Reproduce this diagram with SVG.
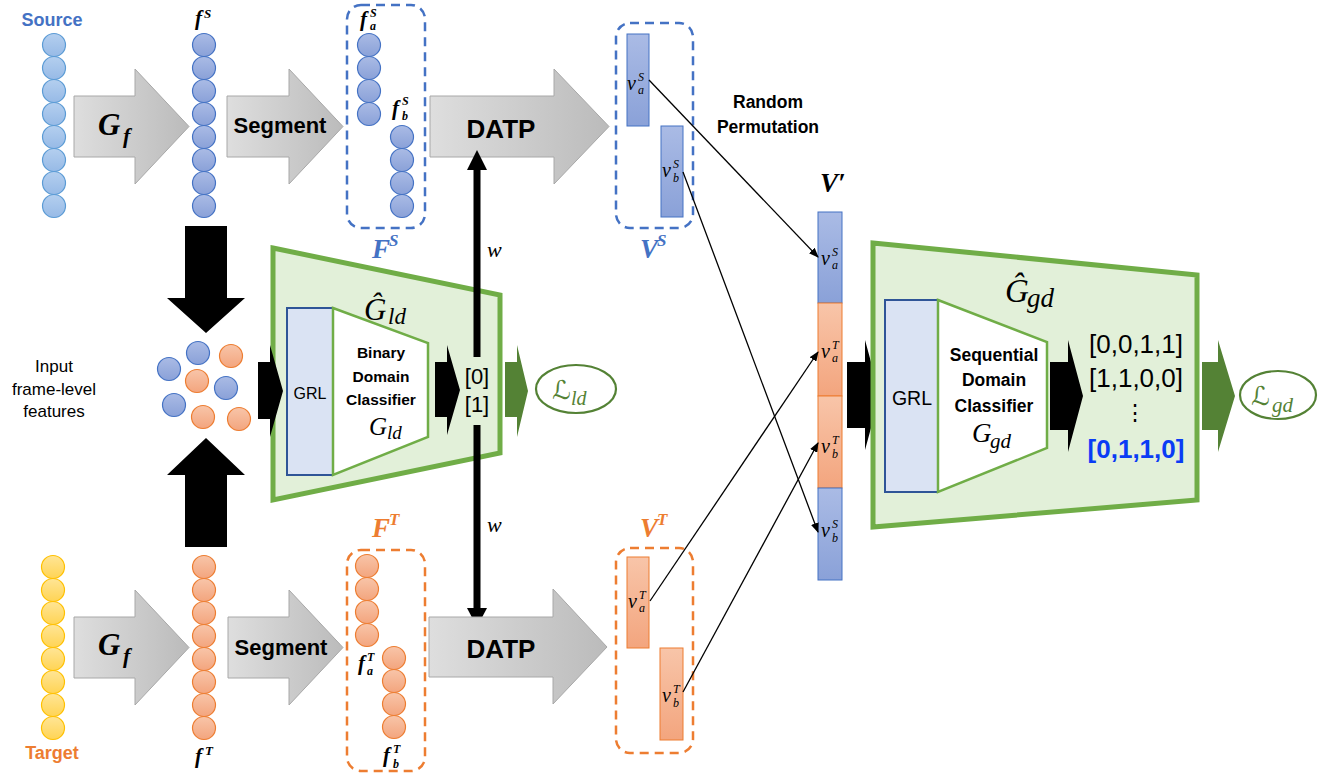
<svg xmlns="http://www.w3.org/2000/svg" width="1330" height="778" viewBox="0 0 1330 778">
<defs>
  <linearGradient id="gGray" x1="0" y1="0" x2="1" y2="0"><stop offset="0" stop-color="#DEDEDE"/><stop offset="1" stop-color="#BBBBBB"/></linearGradient>
  <linearGradient id="gSrc" x1="0" y1="0" x2="0" y2="1"><stop offset="0" stop-color="#B4CFEF"/><stop offset="1" stop-color="#97BAE6"/></linearGradient>
  <linearGradient id="gBlue" x1="0" y1="0" x2="0" y2="1"><stop offset="0" stop-color="#AABBE5"/><stop offset="1" stop-color="#8AA1D8"/></linearGradient>
  <linearGradient id="gOrg" x1="0" y1="0" x2="0" y2="1"><stop offset="0" stop-color="#F8C5A9"/><stop offset="1" stop-color="#F3A57E"/></linearGradient>
  <linearGradient id="gYel" x1="0" y1="0" x2="0" y2="1"><stop offset="0" stop-color="#FFE596"/><stop offset="1" stop-color="#FFD455"/></linearGradient>
  <marker id="ah" markerWidth="10" markerHeight="8" refX="9" refY="4" orient="auto" markerUnits="userSpaceOnUse"><path d="M0,0 L10,4 L0,8 Z" fill="#000"/></marker>
</defs>
<style>
  .sans{font-family:"Liberation Sans",Arial,sans-serif}
  .b{font-weight:bold}
  .m{font-family:"Liberation Serif","Times New Roman",serif;font-style:italic}
  .scr{font-family:"DejaVu Serif","DejaVu Sans",serif}
  .gray{fill:url(#gGray);stroke:#A8A8A8;stroke-width:1}
  .cs{fill:url(#gSrc);stroke:#5B9BD5;stroke-width:1.2}
  .cb{fill:url(#gBlue);stroke:#4472C4;stroke-width:1.2}
  .co{fill:url(#gOrg);stroke:#ED7D31;stroke-width:1.2}
  .cy{fill:url(#gYel);stroke:#FFC000;stroke-width:1.2}
  .dashB{fill:none;stroke:#4472C4;stroke-width:2.5;stroke-dasharray:9 6}
  .dashO{fill:none;stroke:#ED7D31;stroke-width:2.5;stroke-dasharray:9 6}
  .barB{fill:url(#gBlue);stroke:#4472C4;stroke-width:1}
  .barO{fill:url(#gOrg);stroke:#ED7D31;stroke-width:1}
  .conn{stroke:#000;stroke-width:1.3;fill:none;marker-end:url(#ah)}
  .blk{fill:#000}
  .grn{fill:#548235}
  .trap{fill:#E2F0D9;stroke:#70AD47;stroke-width:5}
  .grl{fill:#DAE3F3;stroke:#2F5597;stroke-width:2}
  .cls{fill:#fff;stroke:#70AD47;stroke-width:2.5}
  .blue{fill:#4472C4}
  .org{fill:#ED7D31}
</style>

<!-- Source row -->
<g id="source">
  <text x="52" y="26" text-anchor="middle" class="sans b blue" font-size="18">Source</text>
  <circle class="cs" cx="54" cy="45" r="11.5"/><circle class="cs" cx="54" cy="68" r="11.5"/><circle class="cs" cx="54" cy="91" r="11.5"/><circle class="cs" cx="54" cy="114" r="11.5"/>
  <circle class="cs" cx="54" cy="137" r="11.5"/><circle class="cs" cx="54" cy="160" r="11.5"/><circle class="cs" cx="54" cy="183" r="11.5"/><circle class="cs" cx="54" cy="206" r="11.5"/>
</g>
<g id="gf-top">
  <path class="gray" d="M74,96 L135,96 L135,69 L189,126.5 L135,184 L135,157 L74,157 Z"/>
  <text x="98" y="135" class="m b" font-size="31">G</text><text x="123" y="143" class="m b" font-size="22">f</text>
</g>
<g id="fS">
  <text x="195" y="25" class="m b" font-size="21">f</text><text x="204" y="18" class="m b" font-size="13">S</text>
  <circle class="cb" cx="204" cy="45" r="11.5"/><circle class="cb" cx="204" cy="68" r="11.5"/><circle class="cb" cx="204" cy="91" r="11.5"/><circle class="cb" cx="204" cy="114" r="11.5"/>
  <circle class="cb" cx="204" cy="137" r="11.5"/><circle class="cb" cx="204" cy="160" r="11.5"/><circle class="cb" cx="204" cy="183" r="11.5"/><circle class="cb" cx="204" cy="206" r="11.5"/>
</g>
<g id="segment-top">
  <path class="gray" d="M227,96 L289,96 L289,69 L343,126.5 L289,184 L289,157 L227,157 Z"/>
  <text x="280" y="133" text-anchor="middle" class="sans b" font-size="22">Segment</text>
</g>
<g id="FS">
  <rect class="dashB" x="347" y="5" width="78" height="223" rx="14"/>
  <text x="360" y="26" class="m b" font-size="21">f</text><text x="370" y="17" class="m b" font-size="12">S</text><text x="370" y="30" class="m b" font-size="12">a</text>
  <circle class="cb" cx="369" cy="45" r="11.5"/><circle class="cb" cx="369" cy="68" r="11.5"/><circle class="cb" cx="369" cy="91" r="11.5"/><circle class="cb" cx="369" cy="114" r="11.5"/>
  <text x="392" y="115" class="m b" font-size="21">f</text><text x="402" y="105" class="m b" font-size="12">S</text><text x="402" y="120" class="m b" font-size="12">b</text>
  <circle class="cb" cx="402" cy="137" r="11.5"/><circle class="cb" cx="402" cy="160" r="11.5"/><circle class="cb" cx="402" cy="183" r="11.5"/><circle class="cb" cx="402" cy="206" r="11.5"/>
  <text x="372" y="258" class="m b blue" font-size="27">F</text><text x="389" y="246" class="m b blue" font-size="17">S</text>
</g>
<g id="datp-top">
  <path class="gray" d="M430,96 L554,96 L554,69 L609,126.5 L554,184 L554,157 L430,157 Z"/>
  <text x="501" y="138" text-anchor="middle" class="sans b" font-size="26">DATP</text>
</g>
<g id="VS">
  <rect class="dashB" x="616" y="23" width="77" height="205" rx="14"/>
  <rect class="barB" x="627" y="34" width="22" height="92"/>
  <rect class="barB" x="661" y="126" width="22" height="91"/>
  <text x="627" y="90" class="m" font-size="20">v</text><text x="638" y="81" class="m" font-size="12">S</text><text x="638" y="94" class="m" font-size="12">a</text>
  <text x="662" y="177" class="m" font-size="20">v</text><text x="673" y="168" class="m" font-size="12">S</text><text x="673" y="182" class="m" font-size="12">b</text>
  <text x="640" y="258" class="m b blue" font-size="27">V</text><text x="657" y="246" class="m b blue" font-size="17">S</text>
</g>
<text id="random-perm" class="sans b" font-size="17.5" text-anchor="middle"><tspan x="768" y="108">Random</tspan><tspan x="768" y="133">Permutation</tspan></text>

<!-- Input features -->
<g id="input-features">
  <text class="sans" font-size="17" text-anchor="middle"><tspan x="54" y="372">Input</tspan><tspan x="54" y="395">frame-level</tspan><tspan x="54" y="417">features</tspan></text>
  <path class="blk" d="M185,226 L227,226 L227,298 L245,298 L206,333 L167,298 L185,298 Z"/>
  <path class="blk" d="M185,547 L227,547 L227,475 L245,475 L206,438 L167,475 L185,475 Z"/>
  <circle class="cb" cx="169" cy="369" r="11.5"/><circle class="cb" cx="198" cy="353" r="11.5"/><circle class="cb" cx="226" cy="388" r="11.5"/><circle class="cb" cx="174" cy="405" r="11.5"/>
  <circle class="co" cx="231" cy="356" r="11.5"/><circle class="co" cx="197" cy="381" r="11.5"/><circle class="co" cx="203" cy="417" r="11.5"/><circle class="co" cx="239" cy="419" r="11.5"/>
</g>

<!-- Local domain classifier -->
<g id="Gld">
  <polygon class="trap" points="273,248 500,295 500,453 273,500"/>
  <rect class="grl" x="287" y="308" width="46" height="167"/>
  <text x="310" y="399" text-anchor="middle" class="sans" font-size="16">GRL</text>
  <polygon class="cls" points="333,308 428,343 428,437 333,475"/>
  <text class="sans b" font-size="15.5" text-anchor="middle"><tspan x="381" y="358">Binary</tspan><tspan x="381" y="382">Domain</tspan><tspan x="381" y="405">Classifier</tspan></text>
  <text x="369" y="435" class="m" font-size="25">G</text><text x="387" y="439" class="m" font-size="19">ld</text>
  <text x="364" y="320" class="m" font-size="31">Ĝ</text><text x="388" y="324" class="m" font-size="23">ld</text>
  <path class="blk" d="M258,362 L270,362 L270,345 L283,391 L270,437 L270,419 L258,419 Z"/>
  <path class="blk" d="M435,362 L447,362 L447,345 L460,390 L447,435 L447,417 L435,417 Z"/>
  <text x="477" y="384" text-anchor="middle" class="sans" font-size="22">[0]</text>
  <text x="477" y="412" text-anchor="middle" class="sans" font-size="22">[1]</text>
  <path class="grn" d="M505,362 L517,362 L517,345 L528,391 L517,437 L517,417 L505,417 Z"/>
</g>
<g id="Lld">
  <ellipse cx="576" cy="389" rx="40" ry="24" fill="#fff" stroke="#548235" stroke-width="2.2"/>
  <text x="552" y="399" class="scr" font-size="26" fill="#548235" font-style="italic">ℒ</text><text x="571" y="405" class="m" font-size="20" fill="#548235">ld</text>
</g>

<!-- w arrows -->
<g id="w-arrows">
  <rect class="blk" x="473.5" y="168" width="7" height="189"/>
  <path class="blk" d="M467,170 L477,150 L487,170 Z"/>
  <rect class="blk" x="473.5" y="425" width="7" height="185"/>
  <path class="blk" d="M467,608 L477,627 L487,608 Z"/>
  <text x="487" y="257" class="m" font-size="22">w</text>
  <text x="487" y="532" class="m" font-size="22">w</text>
</g>

<!-- Target row -->
<g id="target">
  <circle class="cy" cx="53" cy="567" r="11.5"/><circle class="cy" cx="53" cy="590" r="11.5"/><circle class="cy" cx="53" cy="613" r="11.5"/><circle class="cy" cx="53" cy="636" r="11.5"/>
  <circle class="cy" cx="53" cy="659" r="11.5"/><circle class="cy" cx="53" cy="682" r="11.5"/><circle class="cy" cx="53" cy="705" r="11.5"/><circle class="cy" cx="53" cy="728" r="11.5"/>
  <text x="52" y="759" text-anchor="middle" class="sans b org" font-size="18">Target</text>
</g>
<g id="gf-bottom">
  <path class="gray" d="M74,617 L135,617 L135,590 L189,647.5 L135,705 L135,678 L74,678 Z"/>
  <text x="98" y="655" class="m b" font-size="31">G</text><text x="123" y="663" class="m b" font-size="22">f</text>
</g>
<g id="fT">
  <circle class="co" cx="204" cy="567" r="11.5"/><circle class="co" cx="204" cy="590" r="11.5"/><circle class="co" cx="204" cy="613" r="11.5"/><circle class="co" cx="204" cy="636" r="11.5"/>
  <circle class="co" cx="204" cy="659" r="11.5"/><circle class="co" cx="204" cy="682" r="11.5"/><circle class="co" cx="204" cy="705" r="11.5"/><circle class="co" cx="204" cy="728" r="11.5"/>
  <text x="195" y="763" class="m b" font-size="21">f</text><text x="205" y="755" class="m b" font-size="13">T</text>
</g>
<g id="segment-bottom">
  <path class="gray" d="M228,617 L289,617 L289,590 L343,647.5 L289,705 L289,678 L228,678 Z"/>
  <text x="281" y="655" text-anchor="middle" class="sans b" font-size="22">Segment</text>
</g>
<g id="FT">
  <rect class="dashO" x="347" y="550" width="78" height="221" rx="14"/>
  <circle class="co" cx="367" cy="566" r="11.5"/><circle class="co" cx="367" cy="589" r="11.5"/><circle class="co" cx="367" cy="612" r="11.5"/><circle class="co" cx="367" cy="635" r="11.5"/>
  <text x="358" y="670" class="m b" font-size="21">f</text><text x="367" y="661" class="m b" font-size="12">T</text><text x="367" y="675" class="m b" font-size="12">a</text>
  <circle class="co" cx="394" cy="658" r="11.5"/><circle class="co" cx="394" cy="681" r="11.5"/><circle class="co" cx="394" cy="704" r="11.5"/><circle class="co" cx="394" cy="727" r="11.5"/>
  <text x="383" y="762" class="m b" font-size="21">f</text><text x="393" y="753" class="m b" font-size="12">T</text><text x="393" y="768" class="m b" font-size="12">b</text>
  <text x="372" y="537" class="m b org" font-size="27">F</text><text x="389" y="525" class="m b org" font-size="17">T</text>
</g>
<g id="datp-bottom">
  <path class="gray" d="M429,617 L553,617 L553,589 L607,647 L553,704 L553,677 L429,677 Z"/>
  <text x="501" y="658" text-anchor="middle" class="sans b" font-size="26">DATP</text>
</g>
<g id="VT">
  <rect class="dashO" x="616" y="548" width="77" height="205" rx="14"/>
  <rect class="barO" x="627" y="557" width="22" height="91"/>
  <rect class="barO" x="660" y="648" width="23" height="92"/>
  <text x="628" y="608" class="m" font-size="20">v</text><text x="639" y="599" class="m" font-size="12">T</text><text x="639" y="612" class="m" font-size="12">a</text>
  <text x="662" y="702" class="m" font-size="20">v</text><text x="673" y="693" class="m" font-size="12">T</text><text x="673" y="707" class="m" font-size="12">b</text>
  <text x="640" y="537" class="m b org" font-size="27">V</text><text x="657" y="525" class="m b org" font-size="17">T</text>
</g>

<!-- V' -->
<g id="Vprime">
  <text x="820" y="192" class="m b" font-size="27">V′</text>
  <rect class="barB" x="818" y="212" width="24" height="91"/>
  <rect class="barO" x="818" y="303" width="24" height="93"/>
  <rect class="barO" x="818" y="396" width="24" height="92"/>
  <rect class="barB" x="818" y="488" width="24" height="92"/>
  <text x="821" y="265" class="m" font-size="20">v</text><text x="832" y="256" class="m" font-size="12">S</text><text x="832" y="269" class="m" font-size="12">a</text>
  <text x="821" y="358" class="m" font-size="20">v</text><text x="832" y="349" class="m" font-size="12">T</text><text x="832" y="362" class="m" font-size="12">a</text>
  <text x="821" y="453" class="m" font-size="20">v</text><text x="832" y="444" class="m" font-size="12">T</text><text x="832" y="458" class="m" font-size="12">b</text>
  <text x="821" y="537" class="m" font-size="20">v</text><text x="832" y="528" class="m" font-size="12">S</text><text x="832" y="542" class="m" font-size="12">b</text>
</g>

<!-- Global domain classifier -->
<g id="Ggd">
  <path class="blk" d="M847,362 L865,362 L865,340 L880,395 L865,450 L865,428 L847,428 Z"/>
  <polygon class="trap" points="873,243 1197,275 1197,500 873,527"/>
  <rect class="grl" x="885" y="300" width="53" height="192"/>
  <text x="912" y="405" text-anchor="middle" class="sans" font-size="19.5">GRL</text>
  <polygon class="cls" points="938,300 1047,342 1047,448 938,492"/>
  <text class="sans b" font-size="17.5" text-anchor="middle"><tspan x="994" y="361">Sequential</tspan><tspan x="994" y="386">Domain</tspan><tspan x="994" y="412">Classifier</tspan></text>
  <text x="972" y="442" class="m" font-size="27">G</text><text x="990" y="448" class="m" font-size="21">gd</text>
  <text x="1005" y="302" class="m" font-size="33">Ĝ</text><text x="1027" y="307" class="m" font-size="27">gd</text>
  <path class="blk" d="M1050,362 L1068,362 L1068,340 L1083,396 L1068,452 L1068,430 L1050,430 Z"/>
  <text x="1136" y="353" text-anchor="middle" class="sans" font-size="26">[0,0,1,1]</text>
  <text x="1136" y="387" text-anchor="middle" class="sans" font-size="26">[1,1,0,0]</text>
  <text x="1135" y="420" text-anchor="middle" class="sans" font-size="22">⋮</text>
  <text x="1136" y="458" text-anchor="middle" class="sans b" font-size="26" fill="#0A3CF5">[0,1,1,0]</text>
  <path class="grn" d="M1202,362 L1218,362 L1218,340 L1235,396 L1218,452 L1218,430 L1202,430 Z"/>
</g>
<g id="Lgd">
  <ellipse cx="1278" cy="395" rx="38" ry="24" fill="#fff" stroke="#548235" stroke-width="2.2"/>
  <text x="1251" y="405" class="scr" font-size="26" fill="#548235" font-style="italic">ℒ</text><text x="1272" y="412" class="m" font-size="21" fill="#548235">gd</text>
</g>

<!-- Connectors -->
<g id="connectors">
  <line class="conn" x1="649" y1="80" x2="818" y2="257"/>
  <line class="conn" x1="683" y1="172" x2="818" y2="532"/>
  <line class="conn" x1="650" y1="601" x2="818" y2="352"/>
  <line class="conn" x1="683" y1="692" x2="818" y2="443"/>
</g>
</svg>
